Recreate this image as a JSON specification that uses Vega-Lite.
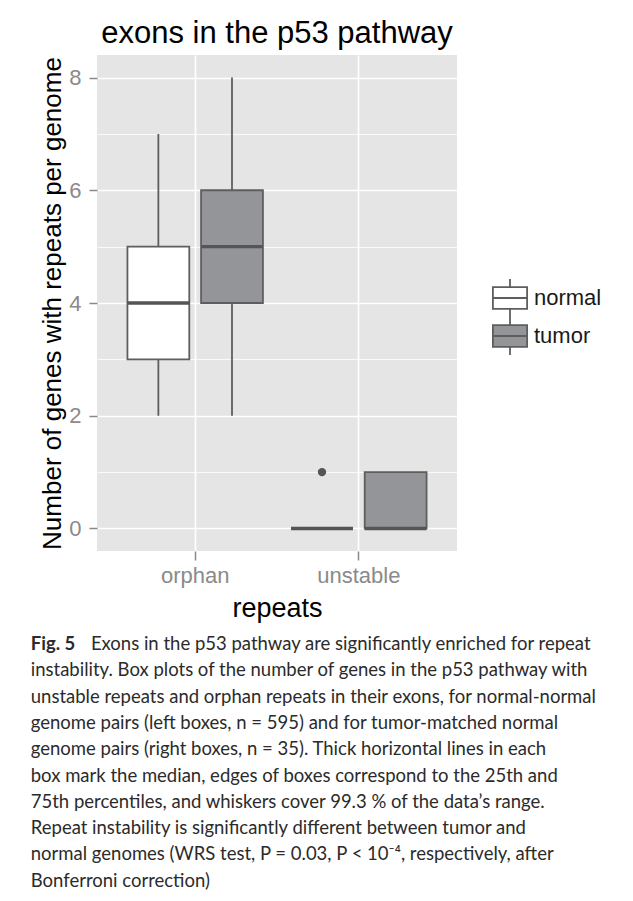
{
  "$schema": "https://vega.github.io/schema/vega-lite/v6.json",
  "background": "white",
  "padding": {"left": 30, "top": 18, "right": 0, "bottom": 0},
  "datasets": {
    "boxes": [
      {"repeats": "orphan", "group": "normal", "lower": 2, "q1": 3, "median": 4, "q3": 5, "upper": 7},
      {"repeats": "orphan", "group": "tumor", "lower": 2, "q1": 4, "median": 5, "q3": 6, "upper": 8},
      {"repeats": "unstable", "group": "normal", "lower": 0, "q1": 0, "median": 0, "q3": 0, "upper": 0},
      {"repeats": "unstable", "group": "tumor", "lower": 0, "q1": 0, "median": 0, "q3": 1, "upper": 1}
    ],
    "outliers": [
      {"repeats": "unstable", "group": "normal", "value": 1}
    ]
  },
  "title": {
    "text": "Fig. 5",
    "subtitle": [
      "\u200b\u2003\u2003\u2003\u2003\u2005Exons in the p53 pathway are significantly enriched for repeat",
      "instability. Box plots of the number of genes in the p53 pathway with",
      "unstable repeats and orphan repeats in their exons, for normal-normal",
      "genome pairs (left boxes, n = 595) and for tumor-matched normal",
      "genome pairs (right boxes, n = 35). Thick horizontal lines in each",
      "box mark the median, edges of boxes correspond to the 25th and",
      "75th percentiles, and whiskers cover 99.3 % of the data’s range.",
      "Repeat instability is significantly different between tumor and",
      "normal genomes (WRS test, P = 0.03, P < 10⁻⁴, respectively, after",
      "Bonferroni correction)"
    ],
    "orient": "bottom",
    "anchor": "start",
    "frame": "bounds",
    "dx": -9,
    "font": "Lato",
    "fontSize": 18.5,
    "fontWeight": "bold",
    "color": "#2b2b2b",
    "baseline": "top",
    "subtitleFont": "Lato",
    "subtitleFontSize": 18.5,
    "subtitleFontWeight": "normal",
    "subtitleColor": "#2b2b2b",
    "subtitleLineHeight": 26.3,
    "subtitlePadding": -18.5,
    "offset": 14
  },
  "vconcat": [
    {
      "width": 360,
      "height": 496,
      "title": {
        "text": "exons in the p53 pathway",
        "font": "Liberation Sans",
        "fontSize": 31,
        "fontWeight": "normal",
        "color": "#000000",
        "anchor": "middle",
        "frame": "group",
        "baseline": "alphabetic",
        "offset": -19
      },
      "data": {"name": "boxes"},
      "encoding": {
        "x": {
          "field": "repeats",
          "type": "nominal",
          "scale": {"paddingInner": 0.1, "paddingOuter": 0.15},
          "axis": {
            "title": "repeats",
            "labelAngle": 0,
            "bandPosition": 0.5,
            "grid": true,
            "gridColor": "#ffffff",
            "gridWidth": 1.6,
            "domain": false,
            "ticks": true,
            "tickColor": "#8a8a8a",
            "tickWidth": 1.5,
            "tickSize": 9,
            "labelPadding": 5,
            "labelFont": "Liberation Sans",
            "labelFontSize": 22,
            "labelColor": "#8a8a8a",
            "titleFont": "Liberation Sans",
            "titleFontSize": 27,
            "titleFontWeight": "normal",
            "titleColor": "#000000",
            "titlePadding": 9
          }
        },
        "xOffset": {
          "field": "group",
          "type": "nominal",
          "scale": {"paddingInner": 0.16, "paddingOuter": 0.08}
        }
      },
      "layer": [
        {
          "mark": {"type": "rule", "color": "#5e5e5e", "strokeWidth": 1.8},
          "encoding": {
            "y": {
              "field": "lower",
              "type": "quantitative",
              "scale": {"domain": [-0.4, 8.4], "nice": false, "zero": false},
              "axis": {
                "orient": "right",
                "values": [1, 3, 5, 7],
                "grid": true,
                "gridColor": "#ffffff",
                "gridWidth": 0.8,
                "labels": false,
                "ticks": false,
                "domain": false,
                "title": null
              }
            },
            "y2": {"field": "upper"}
          }
        },
        {
          "mark": {"type": "bar", "stroke": "#5e5e5e", "strokeWidth": 1.8},
          "encoding": {
            "y": {
              "field": "q1",
              "type": "quantitative",
              "axis": {
                "title": "Number of genes with repeats per genome",
                "values": [0, 2, 4, 6, 8],
                "grid": true,
                "gridColor": "#ffffff",
                "gridWidth": 1.6,
                "domain": false,
                "tickColor": "#8a8a8a",
                "tickWidth": 1.5,
                "tickSize": 8,
                "labelPadding": 8,
                "labelFont": "Liberation Sans",
                "labelFontSize": 22,
                "labelColor": "#8a8a8a",
                "titleFont": "Liberation Sans",
                "titleFontSize": 26,
                "titleFontWeight": "normal",
                "titleColor": "#000000",
                "titlePadding": 3
              }
            },
            "y2": {"field": "q3"},
            "fill": {
              "field": "group",
              "type": "nominal",
              "scale": {"domain": ["normal", "tumor"], "range": ["#ffffff", "#949598"]},
              "legend": {
                "title": null,
                "orient": "none",
                "legendX": 394,
                "legendY": 224,
                "padding": 0,
                "symbolType": "M-0.95,-0.6L0.95,-0.6L0.95,0.6L-0.95,0.6ZM-0.95,0L0.95,0M0,-0.6L0,-1.05M0,0.6L0,1.05",
                "symbolSize": 1296,
                "symbolStrokeColor": "#5e5e5e",
                "symbolStrokeWidth": 1.8,
                "symbolOpacity": 1,
                "labelFont": "Liberation Sans",
                "labelFontSize": 22,
                "labelColor": "#1a1a1a",
                "labelOffset": 5,
                "clipHeight": 38,
                "rowPadding": 0
              }
            }
          }
        },
        {
          "mark": {"type": "bar", "fillOpacity": 0, "stroke": "#555555", "strokeWidth": 3.4},
          "encoding": {
            "y": {"field": "median", "type": "quantitative", "axis": null},
            "y2": {"field": "median"}
          }
        },
        {
          "data": {"name": "outliers"},
          "mark": {"type": "point", "filled": true, "color": "#555555", "opacity": 1, "size": 70},
          "encoding": {
            "y": {"field": "value", "type": "quantitative", "axis": null}
          }
        }
      ],
      "resolve": {"axis": {"y": "independent"}}
    }
  ],
  "config": {
    "view": {"fill": "#E5E5E5", "stroke": null},
    "concat": {"spacing": 0}
  }
}
